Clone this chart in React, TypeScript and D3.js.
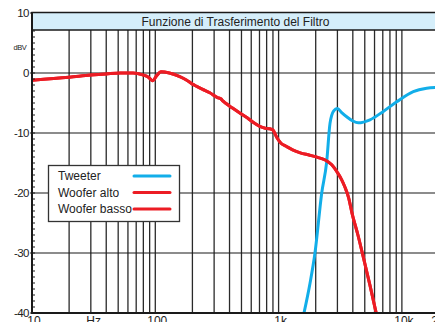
import React from 'react';
import * as d3 from 'd3';

// Frequency response data (Hz, dBV)
const wooferAltoFreq = [10, 20, 30, 40, 52, 66, 79, 88, 95, 103, 111, 130, 158, 180, 195, 202, 215, 240, 277, 320, 340, 355, 370, 420, 488, 560, 630, 704, 780, 850, 900, 970, 1046, 1150, 1300, 1500, 1789, 2100, 2387, 2700, 3027, 3250, 3449, 3700, 3934, 4400, 4855, 5500, 6185];
const wooferAltoDb = [-1.2, -0.7, -0.35, -0.15, 0, 0, -0.3, -0.7, -1.3, -0.4, 0.2, 0, -0.6, -1.2, -1.7, -1.9, -2.2, -2.7, -3.3, -4.1, -4.3, -4.7, -5.0, -5.8, -6.7, -7.5, -8.3, -8.9, -9.2, -9.3, -9.5, -10.8, -11.7, -12.2, -12.8, -13.3, -13.7, -14.1, -14.5, -15.3, -16.7, -17.8, -19, -20.8, -23.3, -27, -30.6, -35.3, -40];

// the second woofer trace lies on top of the first one in the picture
const wooferBassoFreq = [10, 20, 30, 40, 52, 66, 79, 88, 95, 103, 111, 130, 158, 180, 195, 202, 215, 240, 277, 320, 340, 355, 370, 420, 488, 560, 630, 704, 780, 850, 900, 970, 1046, 1150, 1300, 1500, 1789, 2100, 2387, 2700, 3027, 3250, 3449, 3700, 3934, 4400, 4855, 5500, 6185];
const wooferBassoDb = [-1.2, -0.7, -0.35, -0.15, 0, 0, -0.3, -0.7, -1.3, -0.4, 0.2, 0, -0.6, -1.2, -1.7, -1.9, -2.2, -2.7, -3.3, -4.1, -4.3, -4.7, -5.0, -5.8, -6.7, -7.5, -8.3, -8.9, -9.2, -9.3, -9.5, -10.8, -11.7, -12.2, -12.8, -13.3, -13.7, -14.1, -14.5, -15.3, -16.7, -17.8, -19, -20.8, -23.3, -27, -30.6, -35.3, -40];

const tweeterFreq = [1607, 1800, 1973, 2238, 2455, 2612, 2800, 2993, 3250, 3567, 4000, 4430, 5510, 7068, 9077, 12370, 15890, 20000];
const tweeterDb = [-40, -35, -30, -20, -14.8, -8.4, -6.3, -5.9, -6.6, -7.3, -8.0, -8.3, -7.8, -6.4, -4.8, -3.1, -2.55, -2.4];

const xTicks = [10, 100, 1000, 10000, 20000];
const xTickLabels = ['10', '100', '1k', '10k', '20k'];
const yTicks = [10, 0, -10, -20, -30, -40];
const yGrid = [0, -10, -20, -30];
const legendNames = ['Tweeter', 'Woofer alto', 'Woofer basso'];

const title = 'Funzione di Trasferimento del Filtro';
const blue = '#12aee9';
const red = '#ec1c24';
const font = '"Liberation Sans", Arial, sans-serif';

const App = () => {
  const width = 435;
  const height = 322;

  const x = d3.scaleLog().domain([10, 20000]).range([32, 439]);
  const y = d3.scaleLinear().domain([-40, 10]).range([313, 13]);
  const titleBottom = 30;

  // vertical grid: 2..9 in every decade
  const vGrid: number[] = [];
  [10, 100, 1000].forEach((d) => {
    for (let k = 2; k <= 10; k++) vGrid.push(d * k);
  });

  const minorY = d3.range(-40, 8, 1);

  const line = d3
    .line<[number, number]>()
    .x((d) => x(d[0]))
    .y((d) => y(d[1]))
    .curve(d3.curveMonotoneX);

  const series = [
    { name: legendNames[0], color: blue, pts: tweeterFreq.map((f, i) => [f, tweeterDb[i]] as [number, number]) },
    { name: legendNames[2], color: red, pts: wooferBassoFreq.map((f, i) => [f, wooferBassoDb[i]] as [number, number]) },
    { name: legendNames[1], color: red, pts: wooferAltoFreq.map((f, i) => [f, wooferAltoDb[i]] as [number, number]) },
  ];

  return (
    <div style={{ position: 'fixed', left: 0, top: 0, width, height, overflow: 'hidden' }}>
      <svg width={width} height={height} style={{ display: 'block', fontFamily: font }}>
        <rect x={0} y={0} width={width} height={height} fill='white' />
        <defs>
          <clipPath id='plot'>
            <rect x={x(10)} y={titleBottom} width={x(20000) - x(10)} height={y(-40) - titleBottom} />
          </clipPath>
        </defs>

        {/* vertical grid */}
        {vGrid.map((v) => (
          <line key={v} x1={x(v)} x2={x(v)} y1={titleBottom} y2={y(-40)} stroke='#2a2a2a' strokeWidth={1.3} />
        ))}
        {/* horizontal grid */}
        {yGrid.map((v) => (
          <line key={v} x1={x(10)} x2={width} y1={y(v)} y2={y(v)} stroke='#1a1a1a' strokeWidth={1.2} />
        ))}

        {/* curves */}
        <g clipPath='url(#plot)'>
          {series.map((s) => (
            <path key={s.name} d={line(s.pts) || ''} fill='none' stroke={s.color} strokeWidth={3} strokeLinejoin='round' strokeLinecap='round' />
          ))}
        </g>

        {/* title bar */}
        <rect x={x(10)} y={y(10) - 0.5} width={width} height={titleBottom - y(10) + 0.5} fill='#d5eefa' stroke='#1a1a1a' strokeWidth={1.5} />
        <text x={(x(10) + x(20000)) / 2} y={26} textAnchor='middle' fontSize={12} fill='#222'>
          {title}
        </text>

        {/* axes */}
        <line x1={x(10)} x2={x(10)} y1={y(10) - 1} y2={y(-40) + 1} stroke='#1a1a1a' strokeWidth={2} />
        <line x1={x(10)} x2={width} y1={y(-40)} y2={y(-40)} stroke='#1a1a1a' strokeWidth={2} />
        {minorY.map((v) => (
          <line key={v} x1={x(10)} x2={x(10) + 3} y1={y(v)} y2={y(v)} stroke='#1a1a1a' strokeWidth={1} />
        ))}
        {yTicks.map((v) => (
          <g key={v}>
            <line x1={x(10) - 2} x2={x(10)} y1={y(v)} y2={y(v)} stroke='#1a1a1a' strokeWidth={1} />
            <text x={29} y={y(v) + 4} textAnchor='end' fontSize={11.5} fill='#222' letterSpacing={-0.5}>
              {v}
            </text>
          </g>
        ))}
        <text x={20} y={50} textAnchor='middle' fontSize={7.5} fill='#222' letterSpacing={-0.4}>
          dBV
        </text>
        {xTicks.map((v, i) => (
          <text key={v} x={x(v) + 2} y={325} textAnchor='middle' fontSize={12} fill='#222'>
            {xTickLabels[i]}
          </text>
        ))}
        <text x={x(Math.sqrt(1000))} y={325} textAnchor='middle' fontSize={12} fill='#222'>
          Hz
        </text>

        {/* legend */}
        <rect x={48.5} y={165.5} width={131} height={56} fill='white' stroke='#333' strokeWidth={1.3} />
        {legendNames.map((n, i) => (
          <g key={n} transform={`translate(0, ${180 + i * 16.5})`}>
            <text x={58} y={0} fontSize={12} fill='#222'>
              {n}
            </text>
            <line x1={134} x2={170} y1={-4} y2={-4} stroke={i === 0 ? blue : red} strokeWidth={3} strokeLinecap='round' />
          </g>
        ))}
      </svg>
    </div>
  );
};

export default App;
